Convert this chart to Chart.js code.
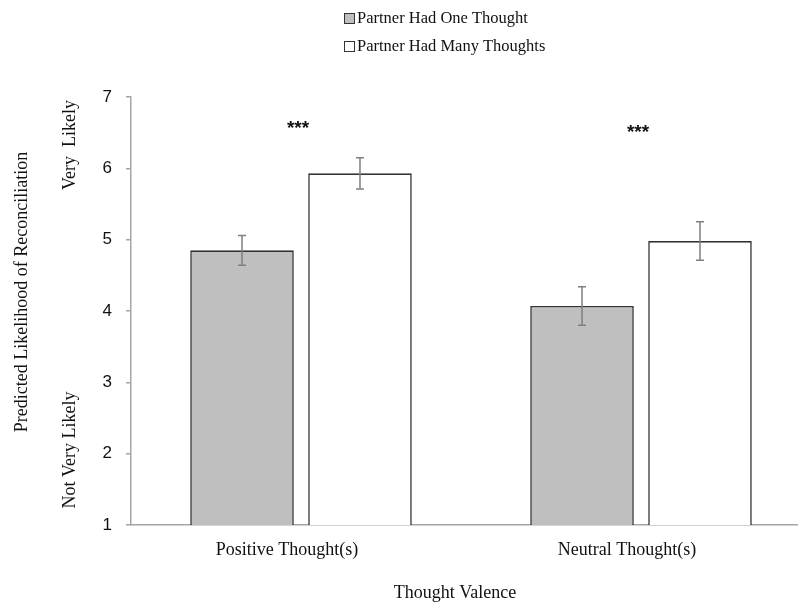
<!DOCTYPE html>
<html>
<head>
<meta charset="utf-8">
<script src="https://cdn.jsdelivr.net/npm/chart.js@4.4.0/dist/chart.umd.min.js"></script>
<style>
  html, body { margin: 0; padding: 0; background: #fff; overflow: hidden; }
  #wrap { width: 811px; height: 603px; }
</style>
</head>
<body>
<div id="wrap"><canvas id="chart"></canvas></div>
<script>
// data
const categories = ['Positive Thought(s)', 'Neutral Thought(s)'];
const seriesNames = ['Partner Had One Thought', 'Partner Had Many Thoughts'];
const oneThought = [4.85, 4.07];
const manyThoughts = [5.93, 4.98];
const oneThoughtErr = [0.21, 0.27];
const manyThoughtsErr = [0.22, 0.27];
const yTicks = [1, 2, 3, 4, 5, 6, 7];
const sigMarks = ['***', '***'];
const sigLevels = [6.62, 6.57];

const serif = '"Liberation Serif", "Times New Roman", serif';
const sans = '"Liberation Sans", Arial, sans-serif';

// error bars, significance stars, side labels and legend
const extras = {
  id: 'extras',
  afterDatasetsDraw(chart) {
    const ctx = chart.ctx;
    const y = chart.scales.y;
    const errs = [oneThoughtErr, manyThoughtsErr];
    ctx.save();
    ctx.strokeStyle = '#7f7f7f';
    ctx.lineWidth = 1.5;
    chart.data.datasets.forEach((ds, di) => {
      chart.getDatasetMeta(di).data.forEach((bar, i) => {
        const v = ds.data[i], e = errs[di][i];
        const top = y.getPixelForValue(v + e), bot = y.getPixelForValue(v - e);
        ctx.beginPath();
        ctx.moveTo(bar.x, top); ctx.lineTo(bar.x, bot);
        ctx.moveTo(bar.x - 4, top); ctx.lineTo(bar.x + 4, top);
        ctx.moveTo(bar.x - 4, bot); ctx.lineTo(bar.x + 4, bot);
        ctx.stroke();
      });
    });

    // stars
    ctx.fillStyle = '#111';
    ctx.font = 'bold 19px ' + sans;
    ctx.textAlign = 'center';
    ctx.textBaseline = 'middle';
    const x = chart.scales.x;
    sigMarks.forEach((s, i) => {
      ctx.fillText(s, x.getPixelForValue(i) - 3, y.getPixelForValue(sigLevels[i]) + 5);
    });

    // rotated axis texts
    const vtext = (t, cx, cy) => {
      ctx.save();
      ctx.translate(cx, cy);
      ctx.rotate(-Math.PI / 2);
      ctx.fillText(t, 0, 0);
      ctx.restore();
    };
    ctx.font = '18px ' + serif;
    ctx.fillStyle = '#111';
    vtext('Predicted Likelihood of Reconciliation', 22, 292);
    vtext('Very  Likely', 70, 145);
    vtext('Not Very Likely', 70, 450);

    // x title
    ctx.fillText('Thought Valence', 455, 593);

    // legend
    const fills = ['#bfbfbf', '#ffffff'];
    ctx.textAlign = 'left';
    ctx.font = '16.5px ' + serif;
    seriesNames.forEach((n, i) => {
      const ly = 18 + i * 28;
      ctx.fillStyle = fills[i];
      ctx.fillRect(344, ly - 5, 11, 11);
      ctx.strokeStyle = '#333';
      ctx.lineWidth = 1;
      ctx.strokeRect(344.5, ly - 4.5, 10, 10);
      ctx.fillStyle = '#111';
      ctx.fillText(n, 357, ly + 1);
    });
    ctx.restore();
  }
};

new Chart(document.getElementById('chart'), {
  type: 'bar',
  data: {
    labels: categories,
    datasets: [
      {
        label: seriesNames[0],
        data: oneThought,
        backgroundColor: '#bfbfbf',
        borderColor: '#333333',
        borderWidth: 1.6
      },
      {
        label: seriesNames[1],
        data: manyThoughts,
        backgroundColor: '#ffffff',
        borderColor: '#333333',
        borderWidth: 1.6
      }
    ]
  },
  options: {
    responsive: true,
    maintainAspectRatio: false,
    animation: false,
    categoryPercentage: 0.694,
    barPercentage: 0.878,
    layout: { padding: { top: 97, left: 0, right: 0, bottom: 0 } },
    plugins: {
      legend: { display: false },
      tooltip: { enabled: false }
    },
    scales: {
      x: {
        grid: { display: false },
        border: { display: true, color: '#a6a6a6', width: 1.5 },
        ticks: { color: '#111', font: { family: serif, size: 18 }, padding: 6, labelOffset: -14 },
        afterFit(s) { s.height = 78; }
      },
      y: {
        min: 1,
        max: 7,
        afterBuildTicks(s) { s.ticks = yTicks.map(v => ({ value: v })); },
        grid: { drawOnChartArea: false, tickLength: 5, color: '#a6a6a6', lineWidth: 1.5 },
        border: { display: true, color: '#a6a6a6', width: 1.5 },
        ticks: { color: '#111', font: { family: sans, size: 17 }, padding: 14 },
        afterFit(s) { s.width = 131; }
      }
    }
  },
  plugins: [extras]
});
</script>
</body>
</html>
